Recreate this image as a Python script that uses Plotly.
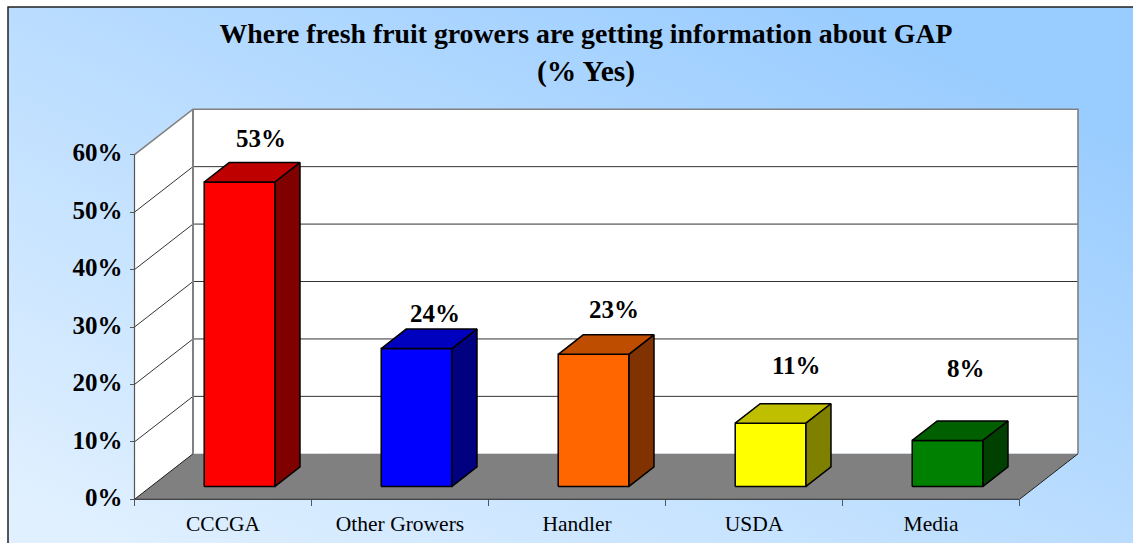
import base64
import plotly.graph_objects as go

categories = ["CCCGA", "Other Growers", "Handler", "USDA", "Media"]
values = [53, 24, 23, 11, 8]
value_labels = ["53%", "24%", "23%", "11%", "8%"]
y_ticks = [0, 10, 20, 30, 40, 50, 60]
y_tick_labels = ["0%", "10%", "20%", "30%", "40%", "50%", "60%"]
title_line = "Where fresh fruit growers are getting information about GAP"
title_sub = "(% Yes)"

# styling
FACE = ["#FF0000", "#0000FF", "#FF6600", "#FFFF00", "#008000"]
TOP = ["#BF0000", "#0000BF", "#BF4D00", "#BFBF00", "#006000"]
SIDE = ["#800000", "#000080", "#803300", "#808000", "#004000"]
LABEL_SHIFT = [(38, 56), (35, 47.5), (37, 58), (42, 71), (35, 85)]
FONT = "Liberation Serif"

W, H = 1133, 543
PX_X0, PX_Y0 = 134.5, 499.3      # pixel of category 0 / 0%
PX_PER_CAT, PX_PER_PCT = 177.0, 5.743
DEPTH_X, DEPTH_Y = 58.5 / PX_PER_CAT, 45.5 / PX_PER_PCT
BAR_W, D0, D1 = 0.40, 0.284, 0.711
L, R, T, B = 120, 1103, 90, 513


def proj(x, y, d=0.0):
    return x + d * DEPTH_X, y + d * DEPTH_Y


fig = go.Figure()


def poly(points, fill=None, line=None, width=1.0):
    xs = [p[0] for p in points]
    ys = [p[1] for p in points]
    fig.add_trace(go.Scatter(
        x=xs, y=ys, mode="lines" if line else "none",
        fill="toself" if fill else "none", fillcolor=fill,
        line=dict(color=line, width=width) if line else None,
        hoverinfo="skip", showlegend=False))


NCAT = len(categories)
TOPV = y_ticks[-1]
# walls
poly([proj(0, 0), proj(0, TOPV), proj(0, TOPV, 1), proj(0, 0, 1), proj(0, 0)], fill="#FFFFFF")
poly([proj(0, 0, 1), proj(NCAT, 0, 1), proj(NCAT, TOPV, 1), proj(0, TOPV, 1), proj(0, 0, 1)], fill="#FFFFFF")
# gridlines
for v in y_ticks[1:-1]:
    poly([proj(0, v), proj(0, v, 1), proj(NCAT, v, 1)], line="#333333", width=1)
poly([proj(0, TOPV), proj(0, TOPV, 1), proj(NCAT, TOPV, 1), proj(NCAT, 0, 1)], line="#808080", width=1.6)
poly([proj(0, 0, 1), proj(0, TOPV, 1)], line="#808080", width=2)
# floor
poly([proj(0, 0), proj(NCAT, 0), proj(NCAT, 0, 1), proj(0, 0, 1), proj(0, 0)], fill="#808080")
poly([proj(0, 0, 1), proj(0, 0), proj(NCAT, 0), proj(NCAT, 0, 1)], line="#222222", width=1)
poly([proj(0, 0), proj(0, TOPV)], line="#555555", width=1.2)
# bars
for i, v in enumerate(values):
    a = i + 0.5 - BAR_W / 2
    b = i + 0.5 + BAR_W / 2
    poly([proj(a, 0, D0), proj(b, 0, D0), proj(b, v, D0), proj(a, v, D0), proj(a, 0, D0)],
         fill=FACE[i], line="#000000", width=1.5)
    poly([proj(a, v, D0), proj(b, v, D0), proj(b, v, D1), proj(a, v, D1), proj(a, v, D0)],
         fill=TOP[i], line="#000000", width=1.5)
    poly([proj(b, 0, D0), proj(b, 0, D1), proj(b, v, D1), proj(b, v, D0), proj(b, 0, D0)],
         fill=SIDE[i], line="#000000", width=1.5)

annotations = [
    dict(x=i + 0.5, y=v, text=t, showarrow=False, xshift=s[0], yshift=s[1],
         xanchor="center", yanchor="middle",
         font=dict(family=FONT, size=25, color="#000000"))
    for i, (v, t, s) in enumerate(zip(values, ["<b>%s</b>" % t for t in value_labels], LABEL_SHIFT))
]
annotations.append(dict(
    xref="paper", yref="paper", x=(586 - L) / (R - L), y=(B - 71.5) / (B - T),
    text="<b>%s</b>" % title_sub, showarrow=False, xanchor="center", yanchor="middle",
    font=dict(family=FONT, size=29.5, color="#000000")))

svg = f'''<svg xmlns="http://www.w3.org/2000/svg" width="{W}" height="{H}">
<defs><linearGradient id="g" x1="0" y1="1" x2="1" y2="0">
<stop offset="0.05" stop-color="#E0F0FF"/><stop offset="0.88" stop-color="#99CCFF"/>
</linearGradient></defs>
<rect x="0" y="0" width="{W}" height="{H}" fill="#FFFFFF"/>
<rect x="8" y="7" width="{W}" height="{H}" fill="url(#g)" stroke="#222222" stroke-width="1.5"/>
</svg>'''
uri = "data:image/svg+xml;base64," + base64.b64encode(svg.encode()).decode()

fig.update_layout(
    width=W, height=H,
    margin=dict(l=L, r=W - R, t=T, b=H - B, pad=0, autoexpand=False),
    paper_bgcolor="#FFFFFF", plot_bgcolor="rgba(0,0,0,0)",
    showlegend=False,
    title=dict(
        text="<b>%s</b>" % title_line,
        x=586 / W, xanchor="center", y=1 - 33 / H, yanchor="middle",
        font=dict(family=FONT, size=27.8, color="#000000")),
    images=[dict(source=uri, xref="paper", yref="paper",
                 x=-L / (R - L), y=1 + T / (B - T),
                 sizex=W / (R - L), sizey=H / (B - T),
                 xanchor="left", yanchor="top", sizing="stretch", layer="below")],
    annotations=annotations,
    xaxis=dict(
        range=[(L - PX_X0) / PX_PER_CAT, (R - PX_X0) / PX_PER_CAT],
        anchor="free", position=(B - PX_Y0) / (B - T),
        showgrid=False, zeroline=False, showline=False, automargin=False,
        tickmode="array", tickvals=[i + 0.5 for i in range(NCAT)], ticktext=categories,
        ticks="", ticklen=0, ticklabelstandoff=9,
        tickfont=dict(family=FONT, size=21.5, color="#000000"),
        minor=dict(tickmode="array", tickvals=list(range(NCAT + 1)),
                   ticks="outside", ticklen=6, tickwidth=1, tickcolor="#555555", showgrid=False)),
    yaxis=dict(
        range=[(PX_Y0 - B) / PX_PER_PCT, (PX_Y0 - T) / PX_PER_PCT],
        anchor="free", position=(PX_X0 - L) / (R - L),
        showgrid=False, zeroline=False, showline=False, automargin=False,
        tickmode="array", tickvals=y_ticks,
        ticktext=["<b>%s</b>" % t for t in y_tick_labels],
        ticks="outside", ticklen=5, tickwidth=1.2, tickcolor="#555555", ticklabelstandoff=2,
        ticklabelshift=-2,
        tickfont=dict(family=FONT, size=25, color="#000000")),
)

fig.write_html("out.html", config={"displayModeBar": False},
               post_script="document.body.style.margin='0';document.body.style.overflow='hidden';")
